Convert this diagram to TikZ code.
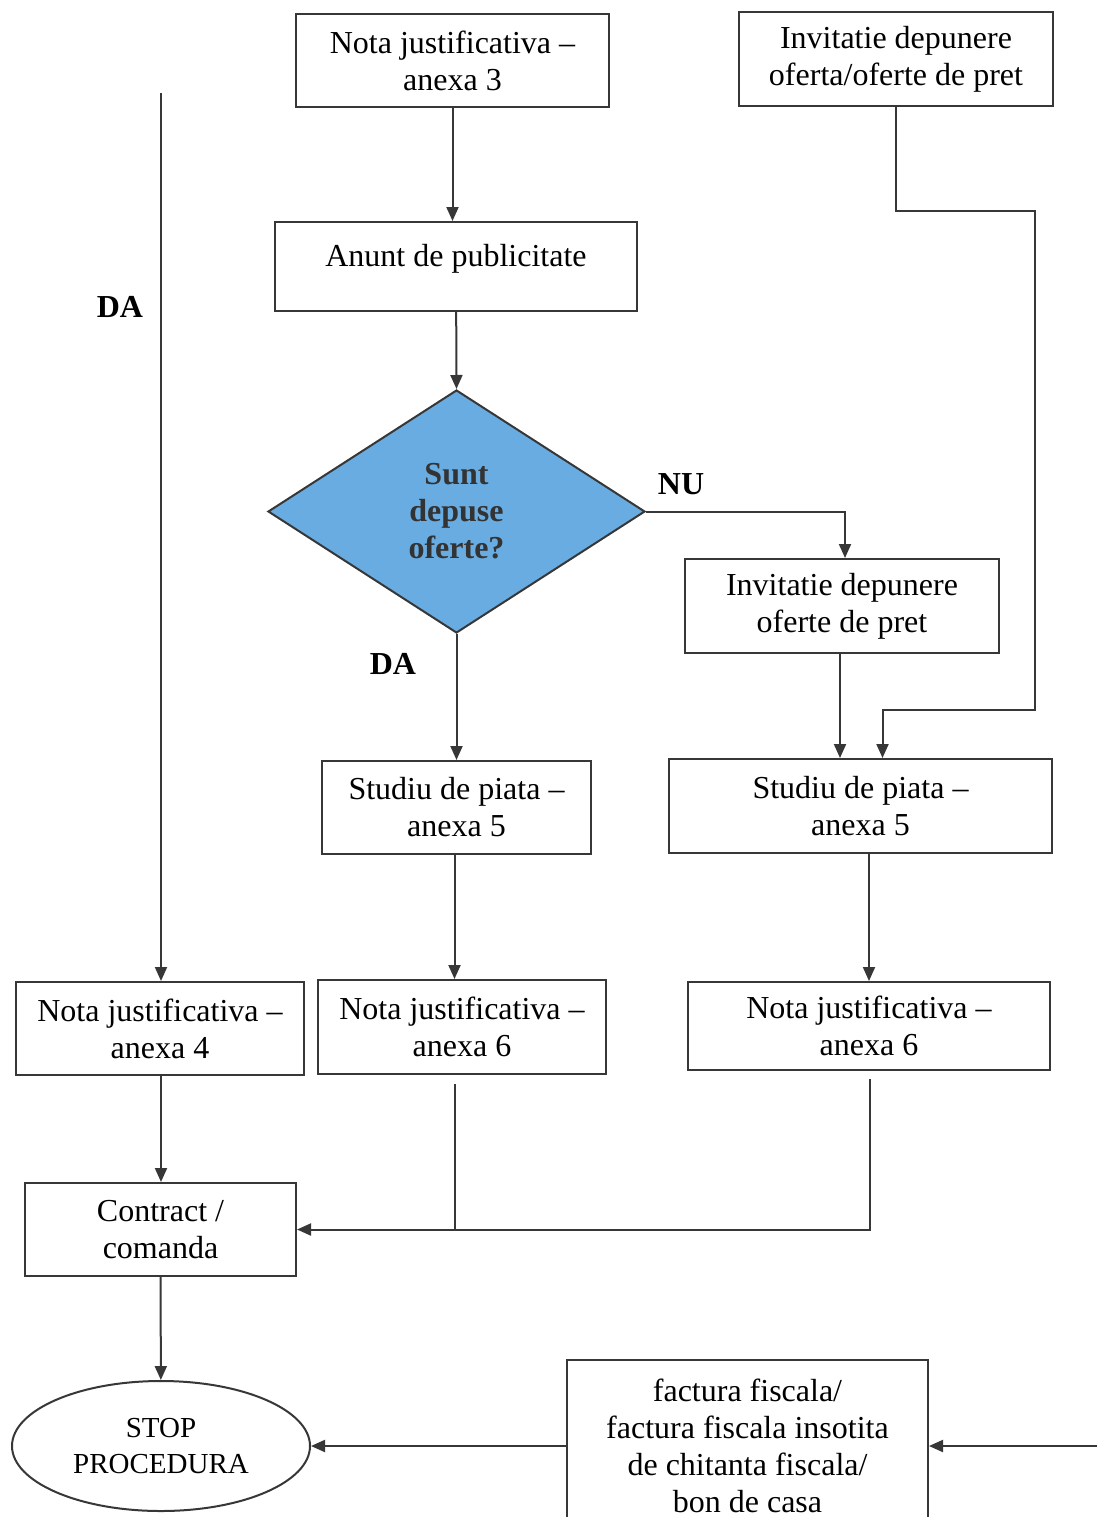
\documentclass[tikz,border=0pt]{standalone}
\usepackage{fontspec}
\setmainfont{Liberation Serif}
\usepackage{tikz}
\usetikzlibrary{arrows.meta,positioning,shapes.geometric}
\usepackage{xcolor}
\definecolor{lineclr}{RGB}{55,55,55}
\definecolor{decfill}{RGB}{104,172,226}

\begin{document}
\begin{tikzpicture}[x=1pt, y=-1pt,
  every node/.style={font=\fontsize{32}{37}\selectfont, align=center},
  box/.style={draw=lineclr, line width=2pt, inner sep=0pt},
  decision/.style={diamond, draw=lineclr, line width=2pt, fill=decfill,
    inner sep=0pt, minimum width=377pt, minimum height=243pt,
    text=black!80, font=\fontsize{32}{37}\selectfont\bfseries},
  stopnode/.style={ellipse, draw=lineclr, line width=2pt, inner sep=0pt,
    minimum width=298pt, minimum height=130pt,
    font=\fontsize{29}{36}\selectfont},
  lbl/.style={font=\fontsize{32}{37}\selectfont\bfseries},
  conn/.style={draw=lineclr, line width=2pt},
  arr/.style={conn, -{Triangle[length=14pt, width=12pt]}}]
  \useasboundingbox (0,0) rectangle (1097,1517);

  \node (n3) [box, minimum width=313pt, minimum height=93pt] at (452.5,60.5)
    {Nota justificativa --\\anexa 3};
  \node (inv1) [box, minimum width=314pt, minimum height=94pt] at (896,59)
    {Invitatie depunere\\oferta/oferte de pret};
  \node (anunt) [box, minimum width=362pt, minimum height=89pt] at (456,266.5)
    {Anunt de publicitate\\[-15pt]};
  \node (dec) [decision] at (456.5,511.5) {Sunt\\depuse\\oferte?};
  \node (inv2) [box, minimum width=314pt, minimum height=94pt] at (842,606)
    {Invitatie depunere\\oferte de pret};
  \node (st1) [box, minimum width=269pt, minimum height=93pt] at (456.5,807.5)
    {Studiu de piata --\\anexa 5};
  \node (st2) [box, minimum width=383pt, minimum height=94pt] at (860.5,806)
    {Studiu de piata --\\anexa 5};
  \node (n4) [box, minimum width=288pt, minimum height=93pt] at (160,1028.5)
    {Nota justificativa --\\anexa 4};
  \node (n6a) [box, minimum width=288pt, minimum height=94pt] at (462,1027)
    {Nota justificativa --\\anexa 6};
  \node (n6b) [box, minimum width=362pt, minimum height=88pt] at (869,1026)
    {Nota justificativa --\\anexa 6};
  \node (contract) [box, minimum width=271pt, minimum height=93pt] at (160.5,1229.5)
    {Contract /\\comanda};
  \node (stop) [stopnode] at (161,1446) {STOP\\PROCEDURA};
  \node (factura) [box, minimum width=361pt, minimum height=172pt] at (747.5,1446)
    {factura fiscala/\\factura fiscala insotita\\de chitanta fiscala/\\bon de casa};

  % labels
  \node (daLeft) [lbl] at (120,307) {DA};
  \node (nu) [lbl] at (681,484) {NU};
  \node (daDec) [lbl] at (393,664) {DA};

  % free ends
  \coordinate (daTop) at (161,93);
  \coordinate (r1) at (1035,211);
  \coordinate (r2) at (1035,710);
  \coordinate (rIn) at (1097,1446);

  \draw[arr] (n3) -- (n3 |- anunt.north);
  \draw[arr] (anunt) -- (dec.north);
  \draw[arr] (dec.east) -| ([xshift=3pt]inv2.north);
  \draw[arr] (dec.south) -- (dec.south |- st1.north);
  \draw[arr] ([xshift=-2pt]inv2.south) -- ([xshift=-2pt]inv2.south |- st2.north);
  \draw[arr] (inv1.south) |- (r1) -- (r2) -| ([xshift=22pt]st2.north);
  \draw[arr] (daTop) -- (daTop |- n4.north);
  \draw[arr] ([xshift=-2pt]st1.south) -- ([xshift=-2pt]st1.south |- n6a.north);
  \draw[arr] (n6b.north |- st2.south) -- (n6b.north);
  \draw[arr] ([xshift=1pt]n4.south) -- ([xshift=1pt]n4.south |- contract.north);
  \draw[arr] ([xshift=1pt]n6b.south) [shorten <=8pt] |- (contract.east);
  \draw[conn] ([xshift=-7pt]n6a.south) [shorten <=9pt] -- ([xshift=-7pt]n6a.south |- contract.east);
  \draw[arr] (contract) -- (stop);
  \draw[arr] (factura) -- (stop);
  \draw[arr] (rIn) -- (factura);
\end{tikzpicture}
\end{document}
